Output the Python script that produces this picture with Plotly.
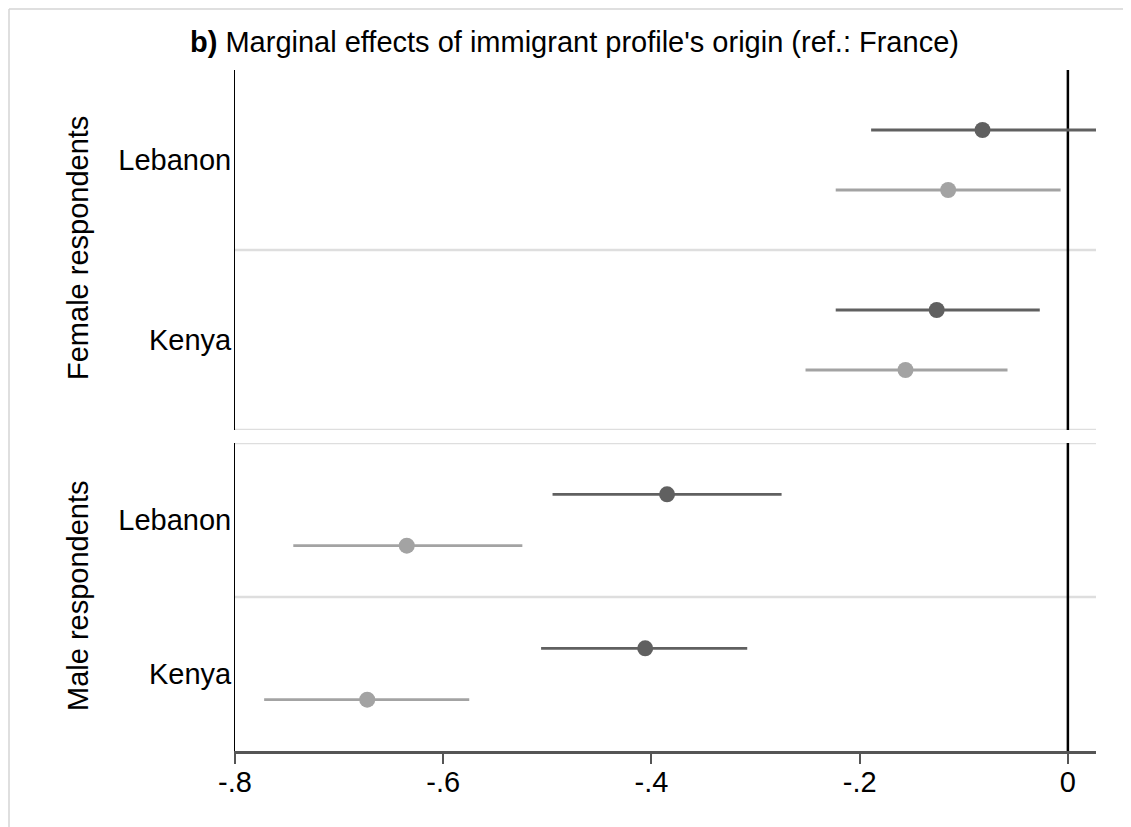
import plotly.graph_objects as go

# ---- data ----
origins = ["Lebanon", "Kenya"]
x_ticks = [-0.8, -0.6, -0.4, -0.2, 0.0]
x_tick_labels = ["-.8", "-.6", "-.4", "-.2", "0"]

female_dark_est = [-0.082, -0.126]
female_dark_lo = [-0.189, -0.223]
female_dark_hi = [0.030, -0.027]

female_light_est = [-0.115, -0.156]
female_light_lo = [-0.223, -0.252]
female_light_hi = [-0.007, -0.058]

male_dark_est = [-0.385, -0.406]
male_dark_lo = [-0.495, -0.506]
male_dark_hi = [-0.275, -0.308]

male_light_est = [-0.635, -0.673]
male_light_lo = [-0.744, -0.772]
male_light_hi = [-0.524, -0.575]

DARK = "#606060"
LIGHT = "#a3a3a3"
FONT = "Liberation Sans, Arial, sans-serif"
FS = 29

# page body margin offset (the figure is placed 8px in from the window edge)
OFF = 8
WIN_W, WIN_H = 1131, 827
W, H = WIN_W - OFF, WIN_H - OFF
PLOT_L, PLOT_R, PLOT_T, PLOT_B = 235, 1096, 70, 751  # window pixel coords
L = PLOT_L - OFF
T = PLOT_T - OFF
R = WIN_W - PLOT_R
B = WIN_H - PLOT_B
pw, ph = PLOT_R - PLOT_L, PLOT_B - PLOT_T


def px_x(p):
    return (p - PLOT_L) / pw


def px_y(p):
    return (PLOT_B - p) / ph


fig = go.Figure()


def add_series(est, lo, hi, offset, color, yaxis):
    ys = [i + offset for i in range(len(origins))]
    fig.add_trace(go.Scatter(
        x=est, y=ys, mode="markers", xaxis="x", yaxis=yaxis,
        marker=dict(size=16, color=color),
        error_x=dict(type="data", symmetric=False,
                     array=[h - e for h, e in zip(hi, est)],
                     arrayminus=[e - l for e, l in zip(est, lo)],
                     width=0, thickness=2.8, color=color),
        showlegend=False, hoverinfo="x+y",
    ))


add_series(female_dark_est, female_dark_lo, female_dark_hi, -1 / 6, DARK, "y")
add_series(female_light_est, female_light_lo, female_light_hi, 1 / 6, LIGHT, "y")
add_series(male_dark_est, male_dark_lo, male_dark_hi, -1 / 6, DARK, "y2")
add_series(male_light_est, male_light_lo, male_light_hi, 1 / 6, LIGHT, "y2")

shapes = []
# separator lines
for yref, vals in (("y", [0.5, 1.5]), ("y2", [-0.5, 0.5])):
    for v in vals:
        shapes.append(dict(type="line", xref="paper", yref=yref, x0=0, x1=1,
                           y0=v, y1=v, line=dict(color="#dedede", width=2.5),
                           layer="below"))
# reference line at zero
for yref in ("y domain", "y2 domain"):
    shapes.append(dict(type="line", xref="x", yref=yref, x0=0, x1=0, y0=0, y1=1,
                       line=dict(color="black", width=2.5), layer="below"))
# outer frame (left and top edges only)
frame_style = dict(color="#d4d4d4", width=1.5)
shapes.append(dict(type="line", xref="paper", yref="paper",
                   x0=px_x(OFF + 1), x1=px_x(OFF + 1), y0=px_y(WIN_H), y1=px_y(OFF + 1),
                   line=frame_style))
shapes.append(dict(type="line", xref="paper", yref="paper",
                   x0=px_x(OFF + 1), x1=px_x(WIN_W), y0=px_y(OFF + 1), y1=px_y(OFF + 1),
                   line=frame_style))

top_dom = [px_y(430), 1]
bot_dom = [0, px_y(443)]

fig.update_layout(
    width=W, height=H,
    margin=dict(l=L, r=R, t=T, b=B),
    paper_bgcolor="white", plot_bgcolor="white",
    font=dict(family=FONT, size=FS, color="black"),
    xaxis=dict(range=[-0.8, 0.027], anchor="y2", tickvals=x_ticks,
               ticktext=x_tick_labels, ticks="outside", ticklen=10,
               tickwidth=1.5, tickcolor="#555555", showline=True,
               linecolor="#555555", linewidth=2.5, showgrid=False,
               zeroline=False, tickfont=dict(size=FS), ticklabelstandoff=-7),
    yaxis=dict(domain=top_dom, range=[1.5, -0.5], anchor="x",
               tickvals=[0, 1], ticktext=origins, ticks="", showline=True,
               linecolor="black", linewidth=1, showgrid=False, zeroline=False,
               tickfont=dict(size=FS), ticklabelstandoff=-3),
    yaxis2=dict(domain=bot_dom, range=[1.5, -0.5], anchor="x",
                tickvals=[0, 1], ticktext=origins, ticks="", showline=True,
                linecolor="black", linewidth=1, showgrid=False, zeroline=False,
                tickfont=dict(size=FS), ticklabelstandoff=-3),
    shapes=shapes,
    annotations=[
        dict(text="<b>b)</b> Marginal effects of immigrant profile's origin (ref.: France)",
             xref="paper", yref="paper", x=px_x(574), y=px_y(42),
             xanchor="center", yanchor="middle", showarrow=False,
             font=dict(size=FS)),
        dict(text="Female respondents", xref="paper", yref="paper",
             x=px_x(78), y=px_y(248), textangle=-90, xanchor="center",
             yanchor="middle", showarrow=False, font=dict(size=FS)),
        dict(text="Male respondents", xref="paper", yref="paper",
             x=px_x(78), y=px_y(596), textangle=-90, xanchor="center",
             yanchor="middle", showarrow=False, font=dict(size=FS)),
    ],
)

fig.write_html("out.html")
